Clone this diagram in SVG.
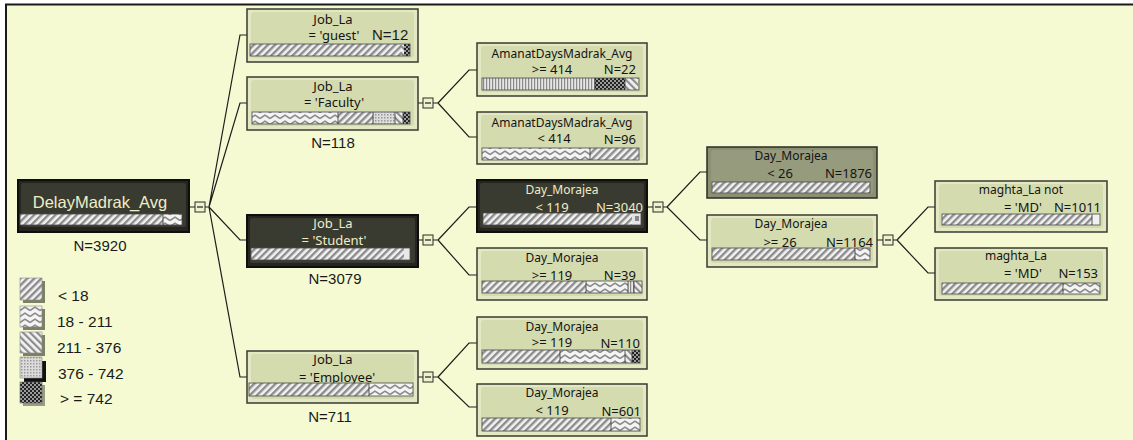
<svg xmlns="http://www.w3.org/2000/svg" width="1133" height="440" viewBox="0 0 1133 440">
<defs>
<pattern id="pH" width="5" height="5" patternUnits="userSpaceOnUse" patternTransform="rotate(45)"><rect width="5" height="5" fill="#f2f2f2"/><rect width="2.4" height="5" fill="#8c8c8c"/></pattern>
<pattern id="pD" width="5" height="5" patternUnits="userSpaceOnUse" patternTransform="rotate(-45)"><rect width="5" height="5" fill="#f2f2f2"/><rect width="2.2" height="5" fill="#8c8c8c"/></pattern>
<pattern id="pW" width="10" height="6" patternUnits="userSpaceOnUse"><rect width="10" height="6" fill="#f4f4f4"/><path d="M0,4.5 L5,1.2 L10,4.5" fill="none" stroke="#8a8a8a" stroke-width="1.5"/></pattern>
<pattern id="pS" width="3" height="3" patternUnits="userSpaceOnUse"><rect width="3" height="3" fill="#dcdcdc"/><rect width="1.5" height="1.5" fill="#9a9a9a"/></pattern>
<pattern id="pC" width="4" height="4" patternUnits="userSpaceOnUse"><rect width="4" height="4" fill="#9a9a9a"/><rect width="2" height="2" fill="#222"/><rect x="2" y="2" width="2" height="2" fill="#222"/></pattern>
<pattern id="pV" width="3" height="3" patternUnits="userSpaceOnUse"><rect width="3" height="3" fill="#e6e6e6"/><rect width="1.2" height="3" fill="#8a8a8a"/></pattern>
</defs>
<style>
.bg{fill:#f5fad2}
.nl{fill:#e2e8c2;stroke:#3a3a32;stroke-width:1.5}
.il{fill:#d4dbaf}
.nd{fill:#24251f;stroke:#0e0e0c;stroke-width:2}
.id{fill:#393b31}
.nm{fill:#8c9072;stroke:#2a2b24;stroke-width:1.5}
.im{fill:#979b7d}
.bar{stroke:#4a4a4a;stroke-width:0.8}
.sep{stroke:#333;stroke-width:0.8}
.c{fill:none;stroke:#1e1e1e;stroke-width:1.2}
.tg{fill:#eef3cc;stroke:#2a2a2a;stroke-width:1}
.t1{font-family:"Noto Sans","DejaVu Sans",sans-serif;font-size:12px;fill:#141414}
.t13{font-family:"Noto Sans","DejaVu Sans",sans-serif;font-size:13px;fill:#141414}
.tw{fill:#efedc8}
.n{font-family:"Liberation Sans",Arial,sans-serif;font-size:15px;fill:#1a1a1a}
.lg{font-family:"Liberation Sans",Arial,sans-serif;font-size:15.5px;fill:#1a1a1a}
.m{text-anchor:middle}
.e{text-anchor:end}
</style>
<rect x="0" y="0" width="1133" height="440" fill="#ffffff"/>
<rect class="bg" x="6" y="4" width="1127" height="436"/>
<path d="M6,440 V4.5 H1133" fill="none" stroke="#1a1a1a" stroke-width="2"/>

<g id="connectors">
<path class="c" d="M189,207 H195 M205,207 H209 M209,207 L240,35 H247 M209,207 L240,103 H247 M209,207 L240,240 H247 M209,207 L240,377 H247"/>
<path class="c" d="M418,103 H423 M433,103 H438 M438,103 L469,70 H477 M438,103 L469,137 H477"/>
<path class="c" d="M418,240 H423 M433,240 H438 M438,240 L469,207 H477 M438,240 L469,275 H477"/>
<path class="c" d="M418,377 H423 M433,377 H438 M438,377 L469,343 H477 M438,377 L469,407 H477"/>
<path class="c" d="M647,207 H653 M663,207 H667 M667,207 L700,172 H707 M667,207 L700,240 H707"/>
<path class="c" d="M877,240 H883 M893,240 H897 M897,240 L928,207 H935 M897,240 L928,273 H935"/>
<g id="toggles">
<rect class="tg" x="195" y="202" width="10" height="10"/><path class="c" d="M197,207 H203"/>
<rect class="tg" x="423" y="98" width="10" height="10"/><path class="c" d="M425,103 H431"/>
<rect class="tg" x="423" y="235" width="10" height="10"/><path class="c" d="M425,240 H431"/>
<rect class="tg" x="423" y="372" width="10" height="10"/><path class="c" d="M425,377 H431"/>
<rect class="tg" x="653" y="202" width="10" height="10"/><path class="c" d="M655,207 H661"/>
<rect class="tg" x="883" y="235" width="10" height="10"/><path class="c" d="M885,240 H891"/>
</g>
</g>

<g id="root">
<rect class="nd" x="18" y="180" width="171" height="52"/>
<rect class="id" x="21" y="183" width="165" height="44" rx="2"/>
<text x="100" y="208" font-family="Liberation Sans, Arial, sans-serif" font-size="16.5" fill="#efedc8" text-anchor="middle">DelayMadrak_Avg</text>
<rect x="20" y="214" width="143" height="11" fill="url(#pH)"/>
<rect x="163" y="214" width="19" height="11" fill="url(#pW)"/>
<rect x="179" y="221" width="3" height="4" fill="#fff"/>
<line class="sep" x1="163" y1="214" x2="163" y2="225"/>
<rect class="bar" x="20" y="214" width="162" height="11" fill="none"/>
<text class="n m" x="100" y="251">N=3920</text>
</g>

<g id="n-guest">
<rect class="nl" x="247" y="9" width="171" height="53"/>
<rect class="il" x="251" y="12" width="163" height="46" rx="3"/>
<text class="t13 m" x="333" y="24">Job_La</text>
<text class="t13 m" x="334" y="40">= 'guest'</text>
<text class="n" x="372" y="40">N=12</text>
<rect x="250" y="44" width="151" height="12" fill="url(#pH)"/>
<rect x="401" y="44" width="3" height="12" fill="url(#pD)"/>
<rect x="404" y="44" width="6" height="12" fill="url(#pC)"/>
<rect class="bar" x="250" y="44" width="160" height="12" fill="none"/>
</g>

<g id="n-faculty">
<rect class="nl" x="247" y="77" width="171" height="53"/>
<rect class="il" x="251" y="80" width="163" height="46" rx="3"/>
<text class="t13 m" x="333" y="91">Job_La</text>
<text class="t13 m" x="334" y="107">= 'Faculty'</text>
<rect x="252" y="112" width="86" height="12" fill="url(#pW)"/>
<rect x="338" y="112" width="35" height="12" fill="url(#pH)"/>
<rect x="373" y="112" width="22" height="12" fill="url(#pS)"/>
<rect x="395" y="112" width="8" height="12" fill="url(#pD)"/>
<rect x="403" y="112" width="7" height="12" fill="url(#pC)"/>
<path class="sep" d="M338,112 V124 M373,112 V124 M395,112 V124 M403,112 V124"/>
<rect class="bar" x="252" y="112" width="158" height="12" fill="none"/>
<text class="n m" x="333" y="148">N=118</text>
</g>

<g id="n-student">
<rect class="nd" x="247" y="215" width="171" height="52"/>
<rect class="id" x="250" y="218" width="165" height="45" rx="2"/>
<text class="t13 tw m" x="333" y="228">Job_La</text>
<text class="t13 tw m" x="334" y="245">= 'Student'</text>
<rect x="251" y="248" width="153" height="12" fill="url(#pH)"/>
<rect x="404" y="248" width="6" height="12" fill="#e8e8e8"/>
<rect class="bar" x="251" y="248" width="159" height="12" fill="none"/>
<text class="n m" x="335" y="284">N=3079</text>
</g>

<g id="n-employee">
<rect class="nl" x="247" y="351" width="171" height="52"/>
<rect class="il" x="251" y="354" width="163" height="45" rx="3"/>
<text class="t13 m" x="333" y="364">Job_La</text>
<text class="t13 m" x="337" y="382">= 'Employee'</text>
<rect x="249" y="383" width="120" height="13" fill="url(#pH)"/>
<rect x="369" y="383" width="44" height="13" fill="url(#pW)"/>
<path class="sep" d="M369,383 V396"/>
<rect class="bar" x="249" y="383" width="164" height="13" fill="none"/>
<text class="n m" x="330" y="422">N=711</text>
</g>

<g id="n-amanat1">
<rect class="nl" x="477" y="43" width="170" height="53"/>
<rect class="il" x="481" y="46" width="162" height="46" rx="3"/>
<text class="t1 m" x="562" y="58">AmanatDaysMadrak_Avg</text>
<text class="t13 m" x="552" y="74">&gt;= 414</text>
<text class="t13 e" x="636" y="74">N=22</text>
<rect x="482" y="78" width="113" height="12" fill="url(#pV)"/>
<rect x="595" y="78" width="30" height="12" fill="url(#pC)"/>
<rect x="625" y="78" width="13" height="12" fill="url(#pD)"/>
<path class="sep" d="M595,78 V90 M625,78 V90"/>
<rect class="bar" x="482" y="78" width="157" height="12" fill="none"/>
</g>

<g id="n-amanat2">
<rect class="nl" x="477" y="112" width="170" height="52"/>
<rect class="il" x="481" y="115" width="162" height="45" rx="3"/>
<text class="t1 m" x="562" y="127">AmanatDaysMadrak_Avg</text>
<text class="t13 m" x="554" y="143">&lt; 414</text>
<text class="t13 e" x="636" y="144">N=96</text>
<rect x="482" y="148" width="108" height="12" fill="url(#pW)"/>
<rect x="590" y="148" width="49" height="12" fill="url(#pH)"/>
<path class="sep" d="M590,148 V160"/>
<rect class="bar" x="482" y="148" width="157" height="12" fill="none"/>
</g>

<g id="n-day119a">
<rect class="nd" x="477" y="180" width="170" height="52"/>
<rect class="id" x="480" y="183" width="164" height="45" rx="2"/>
<text class="t1 tw m" x="562" y="194">Day_Morajea</text>
<text class="t13 tw m" x="552" y="212">&lt; 119</text>
<text class="t13 tw e" x="643" y="212">N=3040</text>
<rect x="483" y="213" width="149" height="12" fill="url(#pH)"/>
<rect x="632" y="213" width="9" height="12" fill="#e4e4e4"/>
<rect x="635" y="216" width="4" height="5" fill="#888"/>
<rect class="bar" x="483" y="213" width="158" height="12" fill="none"/>
</g>

<g id="n-day119b">
<rect class="nl" x="477" y="248" width="170" height="52"/>
<rect class="il" x="481" y="251" width="162" height="45" rx="3"/>
<text class="t1 m" x="562" y="262">Day_Morajea</text>
<text class="t13 m" x="552" y="280">&gt;= 119</text>
<text class="t13 e" x="636" y="280">N=39</text>
<rect x="482" y="281" width="104" height="12" fill="url(#pH)"/>
<rect x="586" y="281" width="42" height="12" fill="url(#pW)"/>
<rect x="628" y="281" width="6" height="12" fill="url(#pV)"/>
<rect x="634" y="281" width="8" height="12" fill="url(#pD)"/>
<path class="sep" d="M586,281 V293 M628,281 V293 M634,281 V293"/>
<rect class="bar" x="482" y="281" width="160" height="12" fill="none"/>
</g>

<g id="n-emp119a">
<rect class="nl" x="477" y="317" width="170" height="52"/>
<rect class="il" x="481" y="320" width="162" height="45" rx="3"/>
<text class="t1 m" x="562" y="331">Day_Morajea</text>
<text class="t13 m" x="552" y="347">&gt;= 119</text>
<text class="t13 e" x="640" y="348">N=110</text>
<rect x="482" y="350" width="78" height="13" fill="url(#pH)"/>
<rect x="560" y="350" width="65" height="13" fill="url(#pW)"/>
<rect x="625" y="350" width="7" height="13" fill="url(#pD)"/>
<rect x="632" y="350" width="8" height="13" fill="url(#pC)"/>
<path class="sep" d="M560,350 V363 M625,350 V363 M632,350 V363"/>
<rect class="bar" x="482" y="350" width="158" height="13" fill="none"/>
</g>

<g id="n-emp119b">
<rect class="nl" x="477" y="384" width="170" height="52"/>
<rect class="il" x="481" y="387" width="162" height="45" rx="3"/>
<text class="t1 m" x="562" y="397">Day_Morajea</text>
<text class="t13 m" x="552" y="415">&lt; 119</text>
<text class="t13 e" x="641" y="416">N=601</text>
<rect x="482" y="418" width="129" height="13" fill="url(#pH)"/>
<rect x="611" y="418" width="29" height="13" fill="url(#pW)"/>
<path class="sep" d="M611,418 V431"/>
<rect class="bar" x="482" y="418" width="158" height="13" fill="none"/>
</g>

<g id="n-day26a">
<rect class="nm" x="707" y="147" width="170" height="51"/>
<rect class="im" x="711" y="150" width="162" height="44" rx="3"/>
<text class="t1 m" x="791" y="160">Day_Morajea</text>
<text class="t13 m" x="780" y="178">&lt; 26</text>
<text class="t13 e" x="872" y="178">N=1876</text>
<rect class="bar" x="712" y="182" width="158" height="11" fill="url(#pH)"/>
</g>

<g id="n-day26b">
<rect class="nl" x="707" y="215" width="170" height="52"/>
<rect class="il" x="711" y="218" width="162" height="45" rx="3"/>
<text class="t1 m" x="791" y="228">Day_Morajea</text>
<text class="t13 m" x="780" y="247">&gt;= 26</text>
<text class="t13 e" x="873" y="247">N=1164</text>
<rect x="712" y="248" width="143" height="12" fill="url(#pH)"/>
<rect x="855" y="248" width="15" height="12" fill="url(#pW)"/>
<path class="sep" d="M855,248 V260"/>
<rect class="bar" x="712" y="248" width="158" height="12" fill="none"/>
</g>

<g id="n-maghta-not">
<rect class="nl" x="935" y="181" width="172" height="51"/>
<rect class="il" x="939" y="184" width="164" height="44" rx="3"/>
<text class="t1 m" x="1021" y="194">maghta_La not</text>
<text class="t13 m" x="1023" y="212">= 'MD'</text>
<text class="t13 e" x="1101" y="212">N=1011</text>
<rect x="942" y="214" width="150" height="11" fill="url(#pH)"/>
<rect x="1092" y="214" width="8" height="11" fill="#f0f0f0"/>
<path class="sep" d="M1092,214 V225"/>
<rect class="bar" x="942" y="214" width="158" height="11" fill="none"/>
</g>

<g id="n-maghta">
<rect class="nl" x="935" y="248" width="172" height="52"/>
<rect class="il" x="939" y="251" width="164" height="45" rx="3"/>
<text class="t1 m" x="1016" y="260">maghta_La</text>
<text class="t13 m" x="1023" y="278">= 'MD'</text>
<text class="t13 e" x="1098" y="278">N=153</text>
<rect x="942" y="283" width="121" height="11" fill="url(#pH)"/>
<rect x="1063" y="283" width="37" height="11" fill="url(#pW)"/>
<path class="sep" d="M1063,283 V294"/>
<rect class="bar" x="942" y="283" width="158" height="11" fill="none"/>
</g>

<g id="legend">
<rect x="23" y="281" width="22" height="22" fill="#7d8064"/>
<rect x="20" y="278" width="22" height="22" fill="url(#pH)" stroke="#888" stroke-width="0.6"/>
<text class="lg" x="58" y="301">&lt; 18</text>
<rect x="23" y="309" width="22" height="21" fill="#7d8064"/>
<rect x="20" y="306" width="22" height="21" fill="url(#pW)" stroke="#888" stroke-width="0.6"/>
<text class="lg" x="57" y="327">18 - 211</text>
<rect x="23" y="335" width="22" height="21" fill="#7d8064"/>
<rect x="20" y="332" width="22" height="21" fill="url(#pD)" stroke="#888" stroke-width="0.6"/>
<text class="lg" x="57" y="353">211 - 376</text>
<rect x="24" y="361" width="22" height="21" fill="#111"/>
<rect x="20" y="357" width="22" height="21" fill="url(#pS)" stroke="#888" stroke-width="0.6"/>
<text class="lg" x="58" y="379">376 - 742</text>
<rect x="23" y="385" width="22" height="21" fill="#9a9d84"/>
<rect x="20" y="382" width="22" height="21" fill="url(#pC)" stroke="#666" stroke-width="0.6"/>
<text class="lg" x="60" y="404">&gt; = 742</text>
</g>
</svg>
